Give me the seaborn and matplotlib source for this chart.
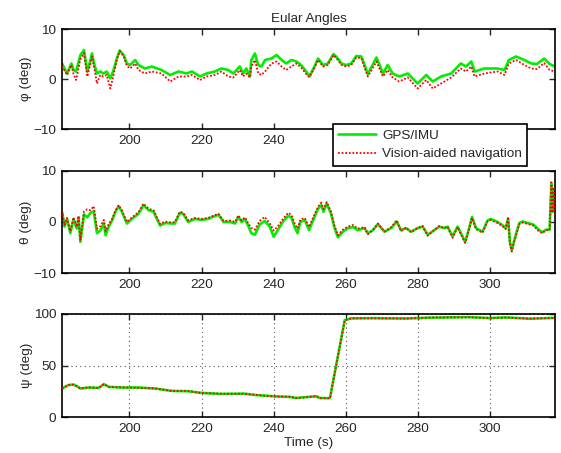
import matplotlib
matplotlib.use("Agg")
import matplotlib.pyplot as plt
import seaborn as sns
import pandas as pd

# ---------------- data ----------------
t_phi = [181.3, 182.7, 183.9, 184.5, 185.2, 186.4, 187.4, 188.3, 189.2, 189.6, 190.3, 191.0, 191.9,
         192.8, 193.7, 194.7, 195.6, 196.5, 197.3, 198.4, 199.3, 200.2, 201.6, 202.5, 204.3, 206.2,
         208.9, 211.3, 213.6, 215.9, 217.3, 219.6, 221.4, 223.7, 225.5, 227.4, 228.8, 230.6, 231.5,
         232.4, 233.4, 233.8, 234.8, 235.7, 236.6, 237.6, 239.4, 240.8, 242.2, 243.5, 244.9, 246.3,
         247.6, 249.0, 249.9, 251.3, 252.3, 253.7, 255.0, 256.6, 257.8, 258.8, 260.1, 261.5, 262.9,
         264.3, 265.2, 266.1, 268.5, 270.3, 271.6, 273.0, 274.8, 277.2, 279.9, 282.3, 284.1, 286.4,
         289.2, 291.9, 293.3, 294.8, 295.7, 298.4, 302.1, 304.0, 305.2, 307.2, 309.5, 311.4, 313.0,
         315.0, 316.5, 318.0]
phi_gps = [3.1, 1.1, 3.1, 1.8, 1.5, 4.8, 5.8, 1.5, 3.8, 5.1, 2.8, 1.1, 1.5,
           1.1, 1.5, 0.1, 1.8, 4.1, 5.7, 4.8, 3.1, 2.8, 3.8, 2.8, 2.1, 2.5,
           1.8, 0.8, 1.5, 1.1, 1.5, 0.5, 1.1, 1.5, 2.1, 1.8, 1.1, 2.5, 1.1,
           2.1, 0.5, 3.8, 5.1, 2.8, 2.5, 3.8, 4.1, 4.8, 3.8, 3.1, 3.8, 3.5,
           2.8, 1.5, 0.5, 2.5, 4.1, 2.8, 3.1, 5.0, 4.1, 3.1, 2.8, 3.1, 4.6,
           4.5, 2.8, 1.0, 4.3, 1.1, 2.8, 1.1, 0.5, 1.1, -0.9, 0.8, -0.5, 0.5,
           1.1, 3.1, 2.5, 3.5, 1.5, 2.1, 2.1, 1.8, 3.8, 4.5, 3.8, 3.1, 3.0,
           4.1, 3.0, 2.5]
phi_vis = [2.6, 0.8, 2.8, 1.0, -0.2, 4.0, 5.2, 0.5, 3.0, 4.5, 2.0, -0.9, 0.8,
           0.5, 0.8, -1.9, 0.8, 3.8, 5.6, 4.5, 2.6, 2.1, 3.1, 1.8, 1.1, 1.5,
           1.1, -0.5, 0.5, 0.5, 0.8, -0.2, 0.5, 0.8, 1.5, 0.5, 0.3, 1.8, 0.5,
           1.1, 0.3, 2.5, 3.8, 1.1, 0.8, 1.5, 3.1, 3.5, 2.5, 1.8, 2.5, 3.1,
           2.3, 1.0, 0.4, 2.2, 3.8, 2.5, 2.8, 4.8, 3.8, 2.8, 2.5, 2.8, 4.3,
           4.2, 2.3, 0.5, 3.5, 0.5, 1.8, 0.3, -0.5, 0.3, -1.9, -0.2, -1.9, -0.9,
           0.3, 2.1, 1.5, 2.5, 0.5, 1.1, 1.5, 0.8, 3.1, 3.8, 2.8, 2.1, 2.0,
           3.2, 1.8, 1.5]

t_theta = [181.3, 182.0, 182.7, 183.6, 184.5, 185.4, 185.9, 186.4, 187.4, 188.3, 189.2, 190.1, 191.0,
           192.0, 192.9, 193.4, 194.2, 195.2, 196.1, 197.0, 197.9, 199.3, 200.7, 202.5, 203.9, 205.3,
           206.7, 207.6, 208.5, 209.9, 211.7, 212.6, 214.0, 214.9, 216.3, 218.1, 220.0, 221.8, 223.8,
           224.7, 226.1, 227.9, 229.3, 230.2, 231.1, 232.0, 232.9, 233.8, 234.8, 236.1, 237.5, 238.9,
           240.0, 241.2, 242.6, 244.0, 244.9, 245.8, 246.6, 247.4, 248.6, 249.8, 250.9, 252.3, 253.2,
           253.8, 254.7, 255.9, 256.8, 257.8, 259.2, 260.6, 262.0, 263.3, 265.2, 266.1, 267.5, 268.9,
           270.7, 272.6, 274.1, 275.3, 276.7, 278.1, 279.9, 281.3, 282.7, 284.5, 285.9, 287.3, 288.2,
           289.6, 291.0, 291.9, 293.1, 294.2, 295.0, 296.1, 297.9, 299.3, 300.2, 302.1, 303.4, 304.3,
           305.0, 305.5, 306.0, 306.7, 308.1, 309.0, 310.5, 312.0, 313.5, 314.5, 315.5, 316.5, 317.0,
           317.3, 317.6, 318.0]
theta_gps = [2.0, -0.9, 0.6, -2.2, 0.6, -1.3, 0.9, -3.9, 1.5, 0.9, 1.8, 2.1, -2.2,
             -1.6, -0.3, -2.6, -1.0, 0.3, 2.0, 3.1, 2.0, -0.3, 0.6, 1.6, 3.3, 2.3,
             2.0, 0.6, -0.7, -0.2, -0.3, -0.3, 1.8, 1.6, 0.0, 0.6, 0.4, 0.6, 1.2,
             1.4, 0.0, 0.0, -0.3, 1.0, 0.0, 0.6, -0.7, -2.2, -2.5, -0.5, 0.2, -0.9,
             -2.9, -1.5, 0.1, 1.2, 0.9, -1.0, -2.2, 0.0, 0.4, -1.6, 0.3, 2.6, 3.3,
             2.0, 3.6, 1.6, -1.0, -3.0, -1.9, -1.2, -1.0, -1.6, -1.2, -2.2, -1.6, -0.4,
             -1.9, -1.2, 0.1, -1.6, -1.2, -1.9, -1.2, -0.9, -2.5, -1.6, -0.9, -1.2, -0.9,
             -2.8, -0.9, -2.2, -3.9, -1.2, 1.0, -1.2, -1.9, 0.3, 0.6, 0.0, -0.6, -1.2,
             0.6, -3.9, -5.5, -3.6, -0.2, 0.1, -0.2, -0.5, -1.5, -2.0, -1.5, -1.5, 7.5,
             2.0, 6.5, 2.0]
theta_vis = [2.2, -0.6, 0.8, -1.8, 0.9, -1.0, 1.2, -3.5, 2.1, 2.5, 2.3, 3.1, -1.3,
             -0.8, 0.4, -1.8, -0.5, 0.6, 2.2, 3.3, 2.3, 0.0, 0.9, 1.9, 3.6, 2.6,
             2.3, 0.9, -0.4, 0.1, -0.1, 0.0, 2.0, 1.8, 0.3, 0.8, 0.6, 0.8, 1.4,
             1.6, 0.2, 0.3, 0.0, 1.3, 0.3, 0.9, -0.2, -1.2, -1.5, 0.2, 1.0, -0.3,
             -1.7, -0.8, 0.6, 1.8, 1.4, -0.3, -1.3, 0.5, 0.8, -1.0, 0.8, 3.0, 3.8,
             2.5, 3.9, 2.0, -0.6, -2.6, -1.5, -0.9, -0.6, -1.3, -1.0, -2.4, -1.6, -0.3,
             -1.9, -1.0, 0.3, -1.8, -1.1, -2.0, -1.2, -0.8, -2.7, -1.6, -0.8, -1.2, -0.9,
             -3.1, -1.0, -2.4, -4.1, -1.4, 0.8, -1.4, -2.1, 0.1, 0.4, -0.2, -0.8, -1.4,
             1.0, -4.3, -5.8, -3.8, -0.4, -0.1, -0.4, -0.7, -1.8, -2.2, -1.6, -1.6, 7.8,
             1.8, 6.8, 1.5]

t_psi = [181.3, 183.1, 184.5, 185.4, 186.4, 188.7, 191.5, 192.9, 194.3, 198.0, 202.5, 207.1,
         211.7, 216.3, 220.0, 225.5, 231.9, 234.7, 240.2, 244.4, 246.3, 251.8, 252.7, 255.0,
         255.6, 259.7, 261.5, 267.5, 272.1, 276.7, 283.2, 294.2, 299.8, 304.4, 311.0, 318.0]
psi_gps = [27.6, 31.0, 31.5, 30.0, 27.6, 28.6, 28.3, 31.9, 29.3, 28.6, 28.6, 27.6,
           25.4, 25.0, 23.4, 22.4, 22.7, 21.4, 20.1, 19.5, 18.5, 20.1, 18.5, 18.2,
           18.4, 94.1, 95.7, 96.0, 95.7, 95.7, 96.4, 97.0, 96.0, 96.7, 95.4, 96.3]
psi_vis = [27.8, 31.2, 31.4, 29.8, 27.8, 28.8, 28.1, 32.0, 29.1, 28.8, 28.4, 27.8,
           25.2, 25.2, 23.2, 22.6, 22.5, 21.6, 19.9, 19.7, 18.3, 20.3, 18.3, 18.4,
           18.2, 93.8, 95.9, 95.8, 95.9, 95.5, 96.6, 96.8, 96.2, 96.5, 95.6, 96.1]

series_names = ["GPS/IMU", "Vision-aided navigation"]
x_ticks = [200, 220, 240, 260, 280, 300]

# ---------------- styling ----------------
sns.set_style("ticks")
plt.rcParams["font.family"] = ["Liberation Sans", "DejaVu Sans"]
plt.rcParams["xtick.direction"] = "in"
plt.rcParams["ytick.direction"] = "in"

fig = plt.figure(figsize=(5.61, 4.53), dpi=100)
L, W = 62 / 561, 493 / 561
pos = [
    (L, 1 - 129 / 453, W, 100 / 453),
    (L, 1 - 273 / 453, W, 102 / 453),
    (L, 1 - 417 / 453, W, 103 / 453),
]
axes = [fig.add_axes(p) for p in pos]

panels = [
    (t_phi, phi_gps, phi_vis, "\u03c6 (deg)", (-10, 10), [-10, 0, 10]),
    (t_theta, theta_gps, theta_vis, "\u03b8 (deg)", (-10, 10), [-10, 0, 10]),
    (t_psi, psi_gps, psi_vis, "\u03c8 (deg)", (0, 100), [0, 50, 100]),
]

FS = 9.7
for i, (ax, (tt, g, v, lab, ylim, yt)) in enumerate(zip(axes, panels)):
    df = pd.DataFrame({"t": tt, "gps": g, "vis": v})
    sns.lineplot(data=df, x="t", y="gps", ax=ax, color="#00ee00", lw=1.9,
                 label=series_names[0], legend=False, zorder=2)
    sns.lineplot(data=df, x="t", y="vis", ax=ax, color="#ff0000", lw=1.3,
                 linestyle=(0, (1, 1)), label=series_names[1], legend=False, zorder=3)
    ax.set_xlim(181.3, 318.0)
    ax.set_ylim(*ylim)
    ax.set_yticks(yt)
    ax.set_xticks(x_ticks)
    ax.set_ylabel(lab, fontsize=FS, labelpad=1)
    ax.set_xlabel("")
    ax.tick_params(axis="both", which="both", direction="in", top=True, right=True,
                   length=4, width=1.0, labelsize=FS, pad=4)
    for s in ax.spines.values():
        s.set_visible(True)
        s.set_linewidth(1.2)
        s.set_color("black")
    if i == 2:
        ax.grid(True, color="0.35", linestyle=(0, (1, 3)), linewidth=0.8)
        ax.set_xlabel("Time (s)", fontsize=FS, labelpad=2)
    else:
        ax.grid(False)

axes[0].set_title("Eular Angles", fontsize=FS, pad=5)

handles, labels = axes[0].get_legend_handles_labels()
leg = fig.legend(handles, labels, loc="upper left", bbox_to_anchor=(333 / 561, 1 - 124 / 453),
                 frameon=True, fancybox=False, edgecolor="black", framealpha=1,
                 borderaxespad=0, fontsize=FS, handlelength=2.8, borderpad=0.4,
                 labelspacing=0.45, handletextpad=0.45)
leg.get_frame().set_linewidth(1.2)

fig.savefig("out.png", dpi=100)
